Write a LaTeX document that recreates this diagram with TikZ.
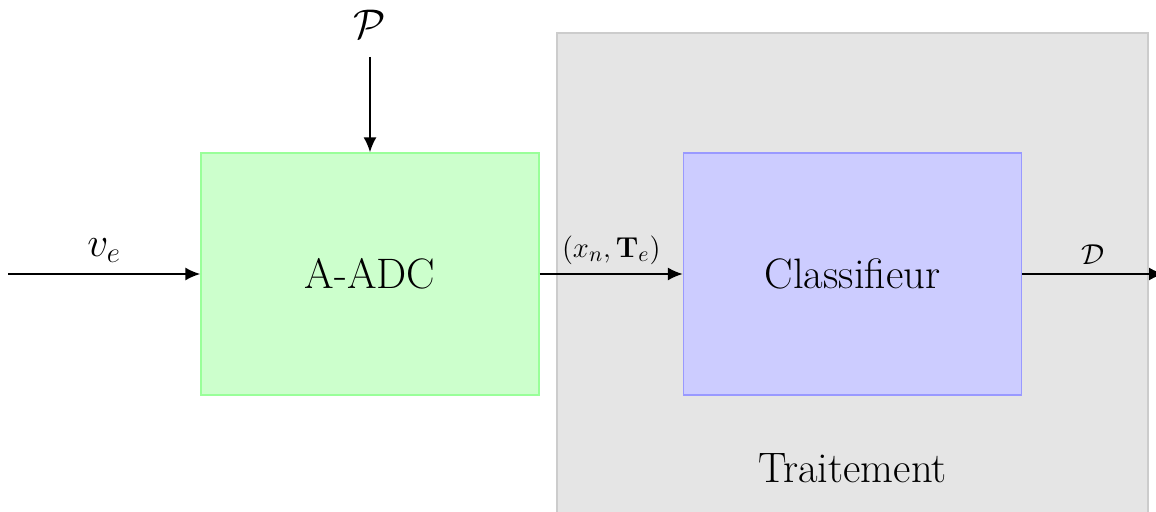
\documentclass[tikz,border=0pt]{standalone}
\usepackage{amsmath}
\usetikzlibrary{arrows.meta}
\begin{document}
\begin{tikzpicture}[x=0.5pt,y=-0.5pt,
  blk/.style={draw, line width=0.6pt, minimum width=169pt, minimum height=121pt, inner sep=0pt, font=\fontsize{21.3}{25}\selectfont},
  arr/.style={line width=1pt, -{Latex[length=7.5pt,width=6.5pt]}},
  big/.style={font=\fontsize{21.3}{25}\selectfont},
  small/.style={font=\fontsize{15.6}{18}\selectfont}]
\useasboundingbox (0,0) rectangle (1156,512);
\clip (0,0) rectangle (1156,512);
\node[draw=black!20, fill=black!10, line width=0.7pt, minimum width=295.5pt, minimum height=263.5pt, inner sep=0pt] (proc) at (852.5,296.5) {};
\node[big] (trt) at (852.5,468) {Traitement};
\node[blk, draw=green!40, fill=green!20] (adc) at (370,274) {A-ADC};
\node[blk, draw=blue!40, fill=blue!20] (clf) at (852.5,274) {Classifieur};
\coordinate (in) at (8,274);
\coordinate (out) at (1164,274);
\coordinate (pc) at (370,57);
\node[big, inner sep=0pt] (plab) at (370,24) {$\mathcal{P}$};
\draw[arr] (in) -- node[midway, above, big, yshift=2pt] (ve) {$v_e$} (adc.west);
\draw[arr] (adc.east) -- node[midway, above, small, yshift=1pt] (xt) {$(x_n,\mathbf{T}_e)$} (clf.west);
\draw[arr] (clf.east) -- node[midway, above, small, yshift=1pt] (dl) {$\mathcal{D}$} (out);
\draw[arr] (pc) -- (adc.north);
\end{tikzpicture}
\end{document}
